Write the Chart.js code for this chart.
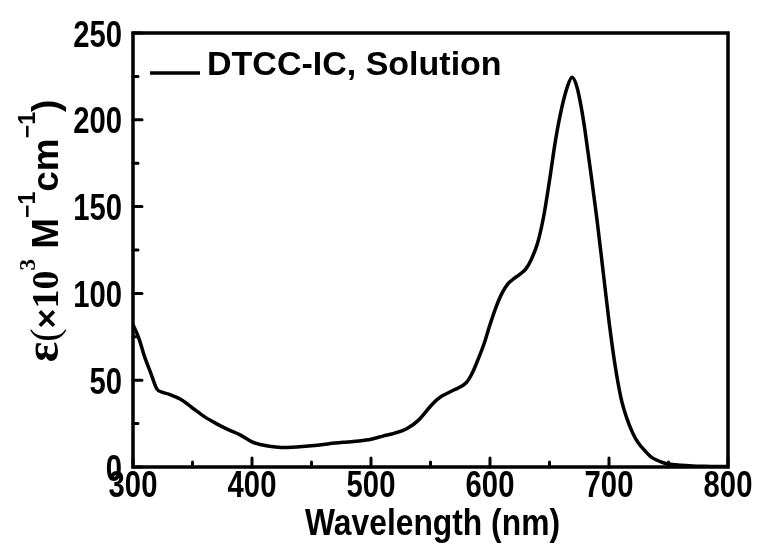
<!DOCTYPE html>
<html>
<head>
<meta charset="utf-8">
<script src="https://cdn.jsdelivr.net/npm/chart.js@4.4.1/dist/chart.umd.min.js"></script>
<style>
  html, body { margin: 0; padding: 0; background: #fff; }
  #wrap { width: 759px; height: 550px; }
</style>
</head>
<body>
<div id="wrap"><canvas id="chart" width="759" height="550"></canvas></div>
<script>
// Absorption spectrum
const wavelength = [300, 305, 310, 315, 320, 325, 330, 340, 350, 360, 370, 380, 390, 400,
    410, 420, 430, 440, 450, 460, 470, 480, 490, 500, 510, 520, 530, 540, 550, 555, 560,
    570, 580, 585, 590, 595, 600, 605, 610, 615, 620, 625, 630, 635, 640, 645, 650, 655,
    660, 665, 669, 673, 677, 680, 685, 690, 695, 700, 705, 710, 715, 720, 725, 730, 735,
    740, 745, 750, 760, 770, 780, 790, 800];
const epsilon = [82, 74, 63, 54, 45, 43, 42, 39, 34, 29, 25, 21.5, 18.5, 14.5,
    12.5, 11.5, 11.2, 11.6, 12.2, 13, 13.8, 14.4, 15, 16, 17.8, 19.5, 22, 27, 35, 38.5, 41,
    44.5, 48.5, 54, 62, 71, 82, 92, 100, 105.5, 108.5, 111, 114, 120, 129, 144, 165, 188,
    206, 219, 224.5, 219, 206, 193, 168, 142, 113, 84, 59, 40, 28, 19.5, 13.5, 9.5, 6,
    4, 2.6, 1.7, 1, 0.6, 0.4, 0.3, 0.3];
const seriesLabel = 'DTCC-IC, Solution';
const xTitle = 'Wavelength (nm)';
const xRange = [300, 800];
const yRange = [0, 250];

const sans = '"Liberation Sans", Arial, sans-serif';
const serif = '"Liberation Serif", "Times New Roman", serif';

// text squeezed horizontally (the reference uses a narrow bold face)
function narrowText(ctx, text, x, y, size, squeeze, align) {
    ctx.save();
    ctx.font = 'bold ' + size + 'px ' + sans;
    ctx.textAlign = align;
    ctx.textBaseline = 'alphabetic';
    ctx.translate(x, y);
    ctx.scale(squeeze, 1);
    ctx.fillText(text, 0, 0);
    ctx.restore();
}

// frame, inward ticks, tick labels, titles and legend
const frameTicks = {
    id: 'frameTicks',
    afterDraw(chart) {
        const { ctx, chartArea: a, scales: { x, y } } = chart;
        ctx.save();
        ctx.strokeStyle = '#000';
        ctx.fillStyle = '#000';
        ctx.lineWidth = 3.5;
        ctx.strokeRect(a.left, a.top, a.right - a.left, a.bottom - a.top);
        ctx.lineWidth = 3;
        ctx.lineCap = 'round';
        ctx.beginPath();
        x.ticks.forEach(t => {
            const px = x.getPixelForValue(t.value);
            const len = t.value % 100 === 0 ? 9 : 5;
            ctx.moveTo(px, a.bottom);
            ctx.lineTo(px, a.bottom - len);
        });
        y.ticks.forEach(t => {
            const py = y.getPixelForValue(t.value);
            const len = t.value % 50 === 0 ? 9 : 5;
            ctx.moveTo(a.left, py);
            ctx.lineTo(a.left + len, py);
        });
        ctx.stroke();

        // tick labels
        x.ticks.forEach(t => {
            if (t.value % 100 !== 0) return;
            narrowText(ctx, String(t.value), x.getPixelForValue(t.value), a.bottom + 30, 37, 0.79, 'center');
        });
        y.ticks.forEach(t => {
            if (t.value % 50 !== 0) return;
            narrowText(ctx, String(t.value), a.left - 11, y.getPixelForValue(t.value) + 13.5, 37, 0.79, 'right');
        });

        // x title
        ctx.font = 'bold 37px ' + sans;
        const tw = ctx.measureText(xTitle).width;
        narrowText(ctx, xTitle, (a.left + a.right) / 2 + 2, a.bottom + 68, 37, 255 / tw, 'center');

        // legend inside the plot
        const ds = chart.data.datasets[0];
        ctx.lineWidth = 3.5;
        ctx.lineCap = 'butt';
        ctx.beginPath();
        ctx.moveTo(a.left + 17, a.top + 40);
        ctx.lineTo(a.left + 67, a.top + 40);
        ctx.stroke();
        ctx.font = 'bold 34px ' + sans;
        ctx.textBaseline = 'alphabetic';
        ctx.fillText(ds.label, a.left + 74, a.top + 42);

        // rotated y title with superscripts
        const parts = [
            { t: 'ε', f: 'bold 48px ' + serif },
            { t: '(', f: '40px ' + serif },
            { t: '×', f: 'bold 34px ' + sans },
            { t: '10', f: 'bold 38px ' + serif },
            { t: '3', f: 'bold 23px ' + serif, rise: 23 },
            { t: ' M', f: 'bold 37px ' + sans },
            { t: '\u22121', f: 'bold 23px ' + sans, rise: 23 },
            { t: 'cm', f: 'bold 37px ' + sans },
            { t: '\u22121', f: 'bold 23px ' + sans, rise: 23 },
            { t: ')', f: 'bold 37px ' + sans }
        ];
        let total = 0;
        parts.forEach(p => { ctx.font = p.f; p.w = ctx.measureText(p.t).width; total += p.w; });
        ctx.translate(a.left - 75, a.top + 198);
        ctx.rotate(-Math.PI / 2);
        let cx = -total / 2;
        parts.forEach(p => {
            ctx.font = p.f;
            ctx.fillText(p.t, cx, -(p.rise || 0));
            cx += p.w;
        });
        ctx.restore();
    }
};

new Chart(document.getElementById('chart'), {
    type: 'line',
    data: {
        datasets: [{
            label: seriesLabel,
            data: wavelength.map((w, i) => ({ x: w, y: epsilon[i] })),
            borderColor: '#000',
            borderWidth: 3.5,
            pointRadius: 0,
            fill: false,
            cubicInterpolationMode: 'monotone'
        }]
    },
    options: {
        responsive: false,
        animation: false,
        layout: { padding: { top: 33, right: 31, left: 0, bottom: 0 } },
        plugins: { legend: { display: false }, tooltip: { enabled: false } },
        scales: {
            x: {
                type: 'linear',
                min: xRange[0], max: xRange[1],
                grid: { display: false },
                border: { display: false },
                ticks: { stepSize: 50, autoSkip: false, display: false },
                afterFit: s => { s.height = 83; }
            },
            y: {
                min: yRange[0], max: yRange[1],
                grid: { display: false },
                border: { display: false },
                ticks: { stepSize: 25, autoSkip: false, display: false },
                afterFit: s => { s.width = 133; }
            }
        }
    },
    plugins: [frameTicks]
});
</script>
</body>
</html>
